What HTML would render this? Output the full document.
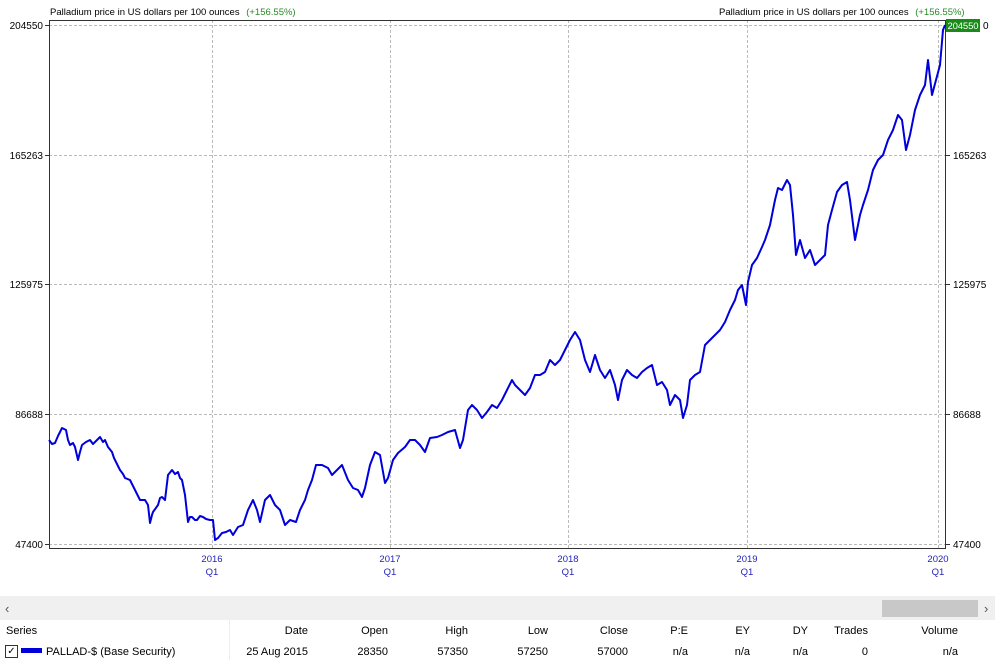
<!DOCTYPE html>
<html><head><meta charset="utf-8"><style>
body{margin:0;width:995px;height:660px;background:#fff;font-family:"Liberation Sans",sans-serif;overflow:hidden;position:relative}
.t{position:absolute;font-size:11px;color:#000;white-space:nowrap}
</style></head><body>
<svg width="995" height="600" style="position:absolute;left:0;top:0" font-family="Liberation Sans, sans-serif">
<text x="50" y="15" font-size="9.5">Palladium price in US dollars per 100 ounces <tspan fill="#2a8a2a" dx="4">(+156.55%)</tspan></text>
<text x="719" y="15" font-size="9.5">Palladium price in US dollars per 100 ounces <tspan fill="#2a8a2a" dx="4">(+156.55%)</tspan></text>
<g stroke="#bbb" stroke-dasharray="3,2" stroke-width="1">
<line x1="49" x2="945" y1="25.5" y2="25.5"/><line x1="49" x2="945" y1="155.5" y2="155.5"/><line x1="49" x2="945" y1="284.5" y2="284.5"/><line x1="49" x2="945" y1="414.5" y2="414.5"/><line x1="49" x2="945" y1="544.5" y2="544.5"/>
<line x1="212.5" x2="212.5" y1="20" y2="549"/><line x1="390.5" x2="390.5" y1="20" y2="549"/><line x1="568.5" x2="568.5" y1="20" y2="549"/><line x1="747.5" x2="747.5" y1="20" y2="549"/><line x1="938.5" x2="938.5" y1="20" y2="549"/>
</g>
<rect x="49.5" y="20.5" width="896" height="528" fill="none" stroke="#333"/>
<g stroke="#333"><line x1="45" x2="49" y1="25.5" y2="25.5"/><line x1="45" x2="49" y1="155.5" y2="155.5"/><line x1="45" x2="49" y1="284.5" y2="284.5"/><line x1="45" x2="49" y1="414.5" y2="414.5"/><line x1="45" x2="49" y1="544.5" y2="544.5"/>
<line x1="946" x2="950" y1="155.5" y2="155.5"/><line x1="946" x2="950" y1="284.5" y2="284.5"/><line x1="946" x2="950" y1="414.5" y2="414.5"/><line x1="946" x2="950" y1="544.5" y2="544.5"/></g>
<g font-size="10" text-anchor="end"><text x="43" y="29">204550</text><text x="43" y="159">165263</text><text x="43" y="288">125975</text><text x="43" y="418">86688</text><text x="43" y="548">47400</text></g>
<g font-size="10"><text x="953" y="159">165263</text><text x="953" y="288">125975</text><text x="953" y="418">86688</text><text x="953" y="548">47400</text></g>
<rect x="946" y="19" width="34" height="13" fill="#1a8a1a"/><text x="947.5" y="29" font-size="9.5" fill="#fff" textLength="31">204550</text><text x="983" y="29" font-size="10">0</text>
<g font-size="9.5" fill="#2222bb" text-anchor="middle"><text x="212" y="562">2016</text><text x="212" y="575">Q1</text><text x="390" y="562">2017</text><text x="390" y="575">Q1</text><text x="568" y="562">2018</text><text x="568" y="575">Q1</text><text x="747" y="562">2019</text><text x="747" y="575">Q1</text><text x="938" y="562">2020</text><text x="938" y="575">Q1</text></g>
<polyline fill="none" stroke="#0000dd" stroke-width="2" stroke-linejoin="round" points="49,440 52,444 55,443 58,436 62,428 66,430 68,440 70,445 73,443 75,447 78,460 80,452 82,445 86,442 90,440 93,444 95,442 100,437 103,442 105,440 108,447 112,452 114,458 116,462 118,466 120,470 123,474 125,478 130,480 133,486 135,490 138,496 140,500 145,500 148,505 150,523 152,515 153,512 158,505 160,498 162,497 165,500 168,475 172,470 175,474 178,472 180,478 182,480 185,495 188,522 190,517 192,517 195,520 197,520 200,516 203,517 206,519 210,520 213,520 215,540 218,538 222,533 226,532 230,530 233,535 238,527 243,525 248,510 253,500 257,510 260,522 265,500 270,495 275,505 280,510 285,525 290,520 296,522 300,510 305,500 308,490 312,480 316,465 322,465 328,468 332,475 337,470 342,465 348,480 353,488 358,490 362,497 365,488 370,465 375,452 380,455 385,483 388,478 393,460 398,453 405,447 410,440 415,440 420,445 425,452 430,438 437,437 442,435 448,432 455,430 460,448 463,440 468,410 472,405 477,410 482,418 487,412 492,405 497,408 502,400 507,390 512,380 515,385 520,390 525,395 530,388 535,375 540,375 545,372 550,360 555,365 560,360 565,350 570,340 575,332 580,340 585,360 590,372 595,355 600,370 605,378 610,370 615,385 618,400 622,380 627,370 632,375 637,378 642,372 647,368 652,365 657,385 662,382 667,390 670,405 675,395 680,400 683,418 687,405 690,380 695,375 700,372 705,345 710,340 715,335 720,330 725,322 730,310 735,300 738,290 742,285 746,305 748,282 752,265 757,258 762,247 765,240 770,225 775,200 778,188 782,190 787,180 790,185 793,215 796,255 800,240 805,258 810,250 815,265 820,260 825,255 828,225 832,210 837,192 842,185 847,182 850,200 855,240 860,215 863,205 868,190 873,170 878,160 883,155 888,140 893,130 898,115 902,120 906,150 910,135 915,110 920,95 925,85 928,60 932,95 936,80 940,65 943,30 945,25"/>
</svg>
<div style="position:absolute;left:0;top:596px;width:995px;height:24px;background:#f0f0f0"></div>
<div style="position:absolute;left:882px;top:600px;width:96px;height:17px;background:#c8c8c8"></div>
<div class="t" style="left:5px;top:601px;font-size:13px;color:#555">‹</div>
<div class="t" style="left:984px;top:601px;font-size:13px;color:#555">›</div>
<div style="position:absolute;left:0;top:620px;width:995px;height:40px;background:#fff"></div>
<div style="position:absolute;top:620px;left:229px;width:1px;height:40px;background:#eee"></div>
<div class="t" style="left:6px;top:625px">Series</div>
<div style="position:absolute;left:5px;top:645px;width:11px;height:11px;border:1px solid #333;font-size:10px;line-height:11px;text-align:center">✓</div>
<div style="position:absolute;left:21px;top:648px;width:21px;height:5px;background:#0000dd"></div>
<div class="t" style="left:46px;top:646px">PALLAD-$ (Base Security)</div>
<div class="t" style="left:229px;width:79px;top:625px;text-align:right">Date</div><div class="t" style="left:229px;width:79px;top:646px;text-align:right">25 Aug 2015</div>
<div class="t" style="left:313px;width:75px;top:625px;text-align:right">Open</div><div class="t" style="left:313px;width:75px;top:646px;text-align:right">28350</div>
<div class="t" style="left:394px;width:74px;top:625px;text-align:right">High</div><div class="t" style="left:394px;width:74px;top:646px;text-align:right">57350</div>
<div class="t" style="left:473px;width:75px;top:625px;text-align:right">Low</div><div class="t" style="left:473px;width:75px;top:646px;text-align:right">57250</div>
<div class="t" style="left:553px;width:75px;top:625px;text-align:right">Close</div><div class="t" style="left:553px;width:75px;top:646px;text-align:right">57000</div>
<div class="t" style="left:633px;width:55px;top:625px;text-align:right">P:E</div><div class="t" style="left:633px;width:55px;top:646px;text-align:right">n/a</div>
<div class="t" style="left:693px;width:57px;top:625px;text-align:right">EY</div><div class="t" style="left:693px;width:57px;top:646px;text-align:right">n/a</div>
<div class="t" style="left:756px;width:52px;top:625px;text-align:right">DY</div><div class="t" style="left:756px;width:52px;top:646px;text-align:right">n/a</div>
<div class="t" style="left:817px;width:51px;top:625px;text-align:right">Trades</div><div class="t" style="left:817px;width:51px;top:646px;text-align:right">0</div>
<div class="t" style="left:880px;width:78px;top:625px;text-align:right">Volume</div><div class="t" style="left:880px;width:78px;top:646px;text-align:right">n/a</div>
</body></html>
